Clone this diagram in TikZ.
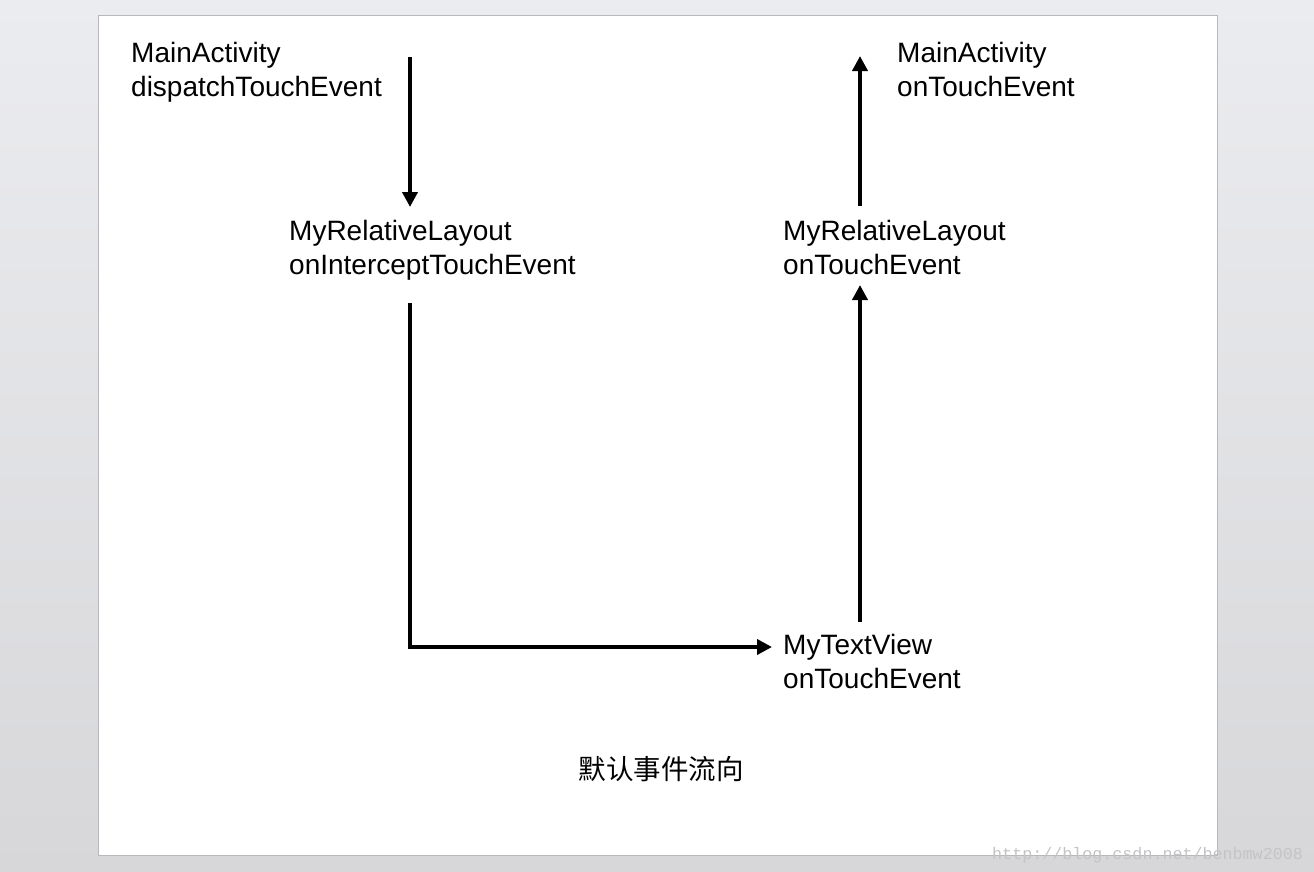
\documentclass[tikz,border=0pt]{standalone}
\usepackage{fontspec}
\setmainfont{Liberation Sans}
\newfontfamily\cjk{Noto Sans CJK SC}
\newfontfamily\wmfont{Liberation Mono}
\usetikzlibrary{arrows.meta}
\definecolor{bgtop}{HTML}{EBECEF}
\definecolor{bgbot}{HTML}{D7D7DA}
\definecolor{pageedge}{HTML}{B8B8BC}
\definecolor{wmark}{HTML}{C4C4C6}
\begin{document}
\begin{tikzpicture}[x=1pt,y=-1pt,
  lbl/.style={anchor=base west,align=left,inner sep=0pt,
    font=\fontsize{28}{34}\selectfont},
  flow/.style={line width=4.5pt,-{Triangle[length=15pt,width=15pt]}}]
\useasboundingbox (0,0) rectangle (1314,871);
\shade[top color=bgtop,bottom color=bgbot] (0,0) rectangle (1314,871);
\fill[white] (98,15) rectangle (1217,855);
\draw[pageedge,line width=1pt] (98,15) rectangle (1217,855);
% labels (base anchor = baseline of last line)
\node[lbl] (A) at (131,96) {MainActivity\\dispatchTouchEvent};
\node[lbl] (B) at (289,274) {MyRelativeLayout\\onInterceptTouchEvent};
\node[lbl] (C) at (897,96) {MainActivity\\onTouchEvent};
\node[lbl] (D) at (783,274) {MyRelativeLayout\\onTouchEvent};
\node[lbl] (E) at (783,688) {MyTextView\\onTouchEvent};
\node[anchor=base,inner sep=0pt,font=\cjk\fontsize{27.5}{30}\selectfont] (cap) at (661,779) {默认事件流向};
% connector endpoints
\coordinate (a1) at (410,57);
\coordinate (b1) at (410,207);
\coordinate (b2) at (410,303);
\coordinate (bc) at (410,647);
\coordinate (e1) at (772,647);
\coordinate (e2) at (860,622);
\coordinate (d1) at (860,285);
\coordinate (d2) at (860,206);
\coordinate (c1) at (860,56);
\draw[flow] (a1) -- (b1);
\draw[flow] (b2) -- (bc) -- (e1);
\draw[flow] (e2) -- (d1);
\draw[flow] (d2) -- (c1);
% watermark
\node[anchor=base west,inner sep=0pt,text=wmark,font=\wmfont\fontsize{16.7}{18}\selectfont] (wm) at (992,859) {http://blog.csdn.net/benbmw2008};
\end{tikzpicture}
\end{document}
